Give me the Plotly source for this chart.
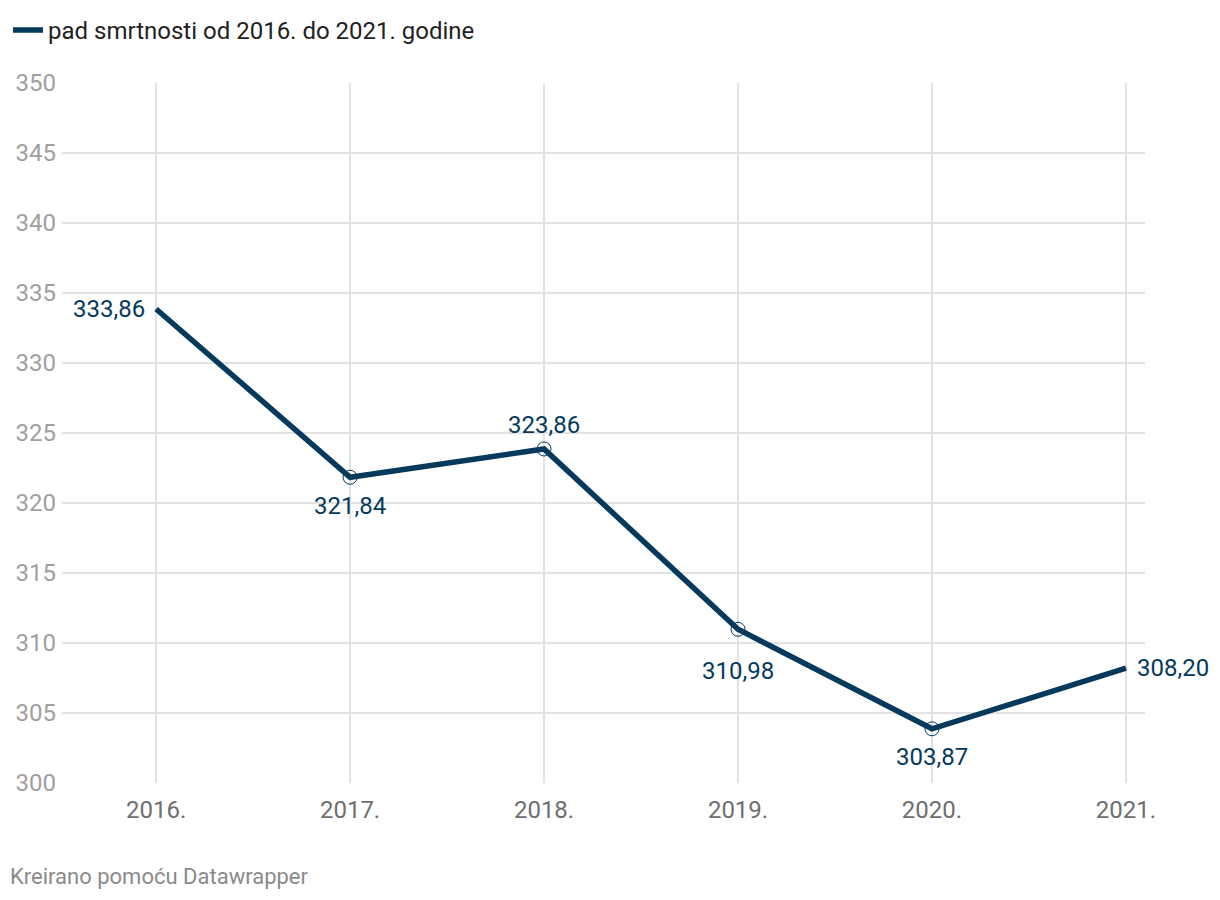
import plotly.graph_objects as go

years = [2016, 2017, 2018, 2019, 2020, 2021]
year_labels = ["2016.", "2017.", "2018.", "2019.", "2020.", "2021."]
values = [333.86, 321.84, 323.86, 310.98, 303.87, 308.20]
value_labels = ["333,86", "321,84", "323,86", "310,98", "303,87", "308,20"]
y_ticks = [300, 305, 310, 315, 320, 325, 330, 335, 340, 345, 350]
series_name = "pad smrtnosti od 2016. do 2021. godine"

# label placement (anchor, xshift, yshift) per point
label_anchor = ["right", "center", "center", "center", "center", "left"]
label_xshift = [-9, 0, 0, 0, 0, 9]
label_yshift = [0, -29, 24, -42, -28, 0]

color = "#063a5d"
font = "Roboto"

fig = go.Figure()
fig.add_trace(go.Scatter(
    x=years, y=values, mode="lines", name=series_name,
    line=dict(color=color, width=5.5), showlegend=True, hoverinfo="skip",
))
fig.add_trace(go.Scatter(
    x=years[1:5], y=values[1:5], mode="markers", showlegend=False,
    marker=dict(symbol="circle-open", size=14, color=color, line=dict(width=1, color=color)),
    hoverinfo="skip",
))

annotations = []
for x, y, t, a, xs, ys in zip(years, values, value_labels, label_anchor, label_xshift, label_yshift):
    annotations.append(dict(x=x, y=y, xref="x", yref="y", text=t, showarrow=False,
                            xanchor=a, yanchor="middle", xshift=xs, yshift=ys,
                            font=dict(family=font, size=24, color=color)))
annotations.append(dict(text="Kreirano pomoću Datawrapper", xref="paper", yref="paper",
                        x=-0.0499, y=-0.134, xanchor="left", yanchor="middle", showarrow=False,
                        font=dict(family=font, size=22, color="#8a8a8a")))

fig.update_layout(
    width=1212, height=892,
    margin=dict(l=54, r=75, t=75, b=117, autoexpand=False),
    paper_bgcolor="white", plot_bgcolor="white",
    font=dict(family=font),
    showlegend=True,
    legend=dict(orientation="h", x=0.0, y=0.975, xanchor="left", yanchor="middle",
                xref="container", yref="container",
                font=dict(family=font, size=24, color="#222222"), itemwidth=30,
                bgcolor="rgba(0,0,0,0)"),
    xaxis=dict(range=[2015.515, 2021.098], tickvals=years, ticktext=year_labels,
               showgrid=True, gridcolor="#e2e2e2", gridwidth=1.5, zeroline=False,
               showline=False, ticks="", ticklabelstandoff=10, automargin=False,
               tickfont=dict(family=font, size=24, color="#6e6e6e")),
    yaxis=dict(range=[300, 350], tickvals=y_ticks, ticktext=[str(v) for v in y_ticks],
               showgrid=True, gridcolor="#e2e2e2", gridwidth=1.5, zeroline=False,
               showline=False, ticks="", ticklabelstandoff=5, automargin=False,
               tickfont=dict(family=font, size=24, color="#a0a0a0")),
    annotations=annotations,
)

fig.write_html("out.html")
